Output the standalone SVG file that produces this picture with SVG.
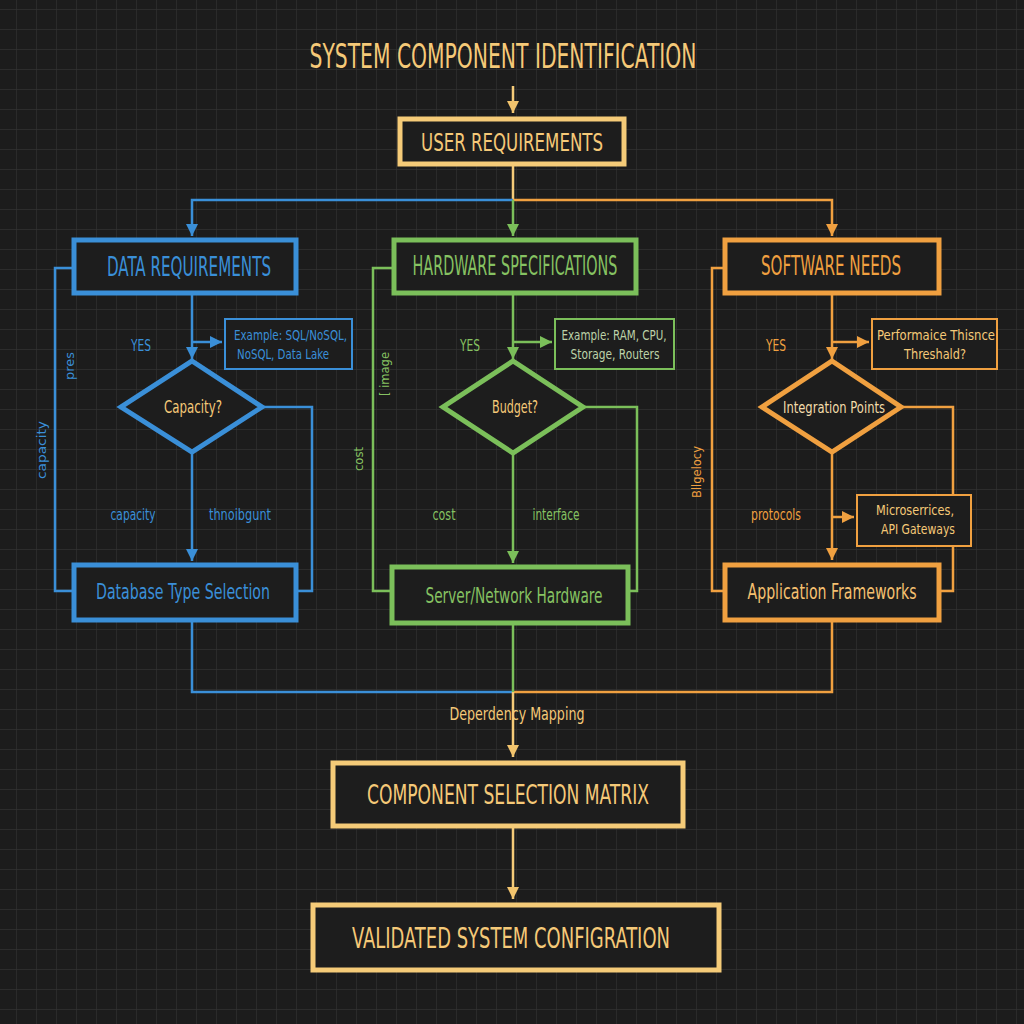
<svg xmlns="http://www.w3.org/2000/svg" width="1024" height="1024" viewBox="0 0 1024 1024">
<defs>
<pattern id="grid" width="20" height="20" patternUnits="userSpaceOnUse" x="16" y="9">
<rect width="20" height="20" fill="#1c1c1c"/>
<path d="M0,0 H20 M0,0 V20" stroke="#313131" stroke-width="1.3" fill="none"/>
</pattern>
<marker id="aGold" markerUnits="userSpaceOnUse" markerWidth="12" markerHeight="12" refX="12" refY="6" orient="auto"><path d="M0,0 L12,6 L0,12 z" fill="#f2c46d"/></marker>
<marker id="aBlue" markerUnits="userSpaceOnUse" markerWidth="12" markerHeight="12" refX="12" refY="6" orient="auto"><path d="M0,0 L12,6 L0,12 z" fill="#3a8fd8"/></marker>
<marker id="aGreen" markerUnits="userSpaceOnUse" markerWidth="12" markerHeight="12" refX="12" refY="6" orient="auto"><path d="M0,0 L12,6 L0,12 z" fill="#7bbf5a"/></marker>
<marker id="aOrange" markerUnits="userSpaceOnUse" markerWidth="12" markerHeight="12" refX="12" refY="6" orient="auto"><path d="M0,0 L12,6 L0,12 z" fill="#f0a040"/></marker>
</defs>
<style>
text{font-family:"DejaVu Sans Condensed","Liberation Sans",Arial,sans-serif;}
.box{fill:#1d1d1d;stroke-width:5;}
.sbox{fill:#1d1d1d;stroke-width:2;}
.dia{fill:#1d1d1d;stroke-width:5;stroke-linejoin:miter;}
.gold{stroke:#f5cb78;}
.blue{stroke:#3a8fd8;}
.green{stroke:#7bbf5a;}
.orange{stroke:#f0a040;}
.ln{fill:none;stroke-width:2.5;}
.tg{fill:#f5c978;}
.tb{fill:#3a8fd8;}
.tgr{fill:#86c262;}
.to{fill:#f0a040;}
.c{text-anchor:middle;}
.big{font-weight:500;}
</style>
<rect width="1024" height="1024" fill="url(#grid)"/>

<g id="connectors">
<line class="ln gold" x1="513" y1="86" x2="513" y2="113" marker-end="url(#aGold)"/>
<line class="ln gold" x1="513" y1="165" x2="513" y2="200" stroke="#f2b45a"/>
<polyline class="ln blue" points="513,200 192,200 192,236" marker-end="url(#aBlue)"/>
<polyline class="ln orange" points="513,200 832,200 832,236" marker-end="url(#aOrange)"/>
<line class="ln green" x1="513" y1="200" x2="513" y2="236" marker-end="url(#aGreen)"/>

<line class="ln blue" x1="192" y1="294" x2="192" y2="359" marker-end="url(#aBlue)"/>
<line class="ln blue" x1="192" y1="342" x2="222" y2="342" marker-end="url(#aBlue)"/>
<line class="ln blue" x1="192" y1="453" x2="192" y2="561" marker-end="url(#aBlue)"/>
<polyline class="ln blue" points="72,268 55,268 55,591 72,591"/>
<polyline class="ln blue" points="263,407 312,407 312,591 297,591"/>

<line class="ln green" x1="513" y1="295" x2="513" y2="359" marker-end="url(#aGreen)"/>
<line class="ln green" x1="513" y1="342" x2="552" y2="342" marker-end="url(#aGreen)"/>
<line class="ln green" x1="513" y1="454" x2="513" y2="563" marker-end="url(#aGreen)"/>
<polyline class="ln green" points="392,268 373,268 373,591 390,591"/>
<polyline class="ln green" points="584,407 637,407 637,591 630,591"/>

<line class="ln orange" x1="832" y1="295" x2="832" y2="359" marker-end="url(#aOrange)"/>
<line class="ln orange" x1="832" y1="342" x2="869" y2="342" marker-end="url(#aOrange)"/>
<line class="ln orange" x1="832" y1="453" x2="832" y2="560" marker-end="url(#aOrange)"/>
<line class="ln orange" x1="832" y1="517" x2="854" y2="517" marker-end="url(#aOrange)"/>
<polyline class="ln orange" points="723,268 712,268 712,591 723,591"/>
<polyline class="ln orange" points="902,407 953,407 953,591 941,591"/>

<polyline class="ln blue" points="192,621 192,692 513,692"/>
<polyline class="ln orange" points="832,622 832,692 513,692"/>
<line class="ln green" x1="513" y1="625" x2="513" y2="692"/>
<line class="ln gold" x1="513" y1="692" x2="513" y2="757" marker-end="url(#aGold)"/>
<line class="ln gold" x1="513" y1="828" x2="513" y2="899" marker-end="url(#aGold)"/>

<text class="tg" x="517" y="720" font-size="17" text-anchor="middle" textLength="135" lengthAdjust="spacingAndGlyphs">Deperdency Mapping</text>
<text class="tb" x="141" y="351" font-size="15" text-anchor="middle" textLength="20" lengthAdjust="spacingAndGlyphs">YES</text>
<text class="tb" x="133" y="520" font-size="15" text-anchor="middle" textLength="45" lengthAdjust="spacingAndGlyphs">capacity</text>
<text class="tb" x="240" y="520" font-size="15" text-anchor="middle" textLength="62" lengthAdjust="spacingAndGlyphs">thnoibgunt</text>
<text class="tb" font-size="13" text-anchor="middle" transform="translate(46,450) rotate(-90)" textLength="58" lengthAdjust="spacingAndGlyphs">capacity</text>
<text class="tb" font-size="13" text-anchor="middle" transform="translate(74,366) rotate(-90)" textLength="28" lengthAdjust="spacingAndGlyphs">pres</text>
<text class="tgr" x="470" y="351" font-size="15" text-anchor="middle" textLength="20" lengthAdjust="spacingAndGlyphs">YES</text>
<text class="tgr" x="444" y="520" font-size="15" text-anchor="middle" textLength="23" lengthAdjust="spacingAndGlyphs">cost</text>
<text class="tgr" x="556" y="520" font-size="15" text-anchor="middle" textLength="47" lengthAdjust="spacingAndGlyphs">interface</text>
<text class="tgr" font-size="13" text-anchor="middle" transform="translate(389,374) rotate(-90)" textLength="44" lengthAdjust="spacingAndGlyphs">[ image</text>
<text class="tgr" font-size="13" text-anchor="middle" transform="translate(363,459) rotate(-90)" textLength="24" lengthAdjust="spacingAndGlyphs">cost</text>
<text class="to" x="776" y="351" font-size="15" text-anchor="middle" textLength="20" lengthAdjust="spacingAndGlyphs">YES</text>
<text class="to" x="776" y="520" font-size="15" text-anchor="middle" textLength="50" lengthAdjust="spacingAndGlyphs">protocols</text>
<text class="to" font-size="13" text-anchor="middle" transform="translate(701,472) rotate(-90)" textLength="52" lengthAdjust="spacingAndGlyphs">Bllgelocy</text>
</g>

<g id="title">
<text class="tg c big" x="503" y="68" font-size="33" textLength="387" lengthAdjust="spacingAndGlyphs">SYSTEM COMPONENT IDENTIFICATION</text>
</g>

<g id="user-requirements">
<rect class="box gold" x="400" y="119" width="224" height="45"/>
<text class="tg c big" x="512" y="151" font-size="25" textLength="182" lengthAdjust="spacingAndGlyphs">USER REQUIREMENTS</text>
</g>

<g id="data-requirements">
<rect class="box blue" x="74" y="240" width="222" height="53"/>
<text class="tb c big" x="189" y="276" font-size="26" textLength="164" lengthAdjust="spacingAndGlyphs">DATA REQUIREMENTS</text>
</g>
<g id="data-example">
<rect class="sbox blue" x="225" y="319" width="127" height="50"/>
<text class="tb" x="234" y="340" font-size="14" textLength="113" lengthAdjust="spacingAndGlyphs">Example: SQL/NoSQL,</text>
<text class="tb" x="237" y="359" font-size="14" textLength="92" lengthAdjust="spacingAndGlyphs">NoSQL, Data Lake</text>
</g>
<g id="capacity">
<polygon class="dia blue" points="192,361 262,407 192,452 121,407"/>
<text class="tg c" x="193" y="413" font-size="17" textLength="58" lengthAdjust="spacingAndGlyphs">Capacity?</text>
</g>
<g id="database-type">
<rect class="box blue" x="74" y="565" width="222" height="55"/>
<text class="tb c big" x="183" y="599" font-size="22" textLength="174" lengthAdjust="spacingAndGlyphs">Database Type Selection</text>
</g>

<g id="hardware-specifications">
<rect class="box green" x="394" y="240" width="242" height="53"/>
<text class="tgr c big" x="515" y="275" font-size="26" textLength="205" lengthAdjust="spacingAndGlyphs">HARDWARE SPECIFICATIONS</text>
</g>
<g id="hardware-example">
<rect class="sbox green" x="555" y="319" width="119" height="50"/>
<text fill="#bcd2a8" x="614" y="340" font-size="14" text-anchor="middle" textLength="105" lengthAdjust="spacingAndGlyphs">Example: RAM, CPU,</text>
<text fill="#bcd2a8" x="615" y="359" font-size="14" text-anchor="middle" textLength="89" lengthAdjust="spacingAndGlyphs">Storage, Routers</text>
</g>
<g id="budget">
<polygon class="dia green" points="513,361 583,407 513,453 443,407"/>
<text class="tg c" x="515" y="413" font-size="17" textLength="46" lengthAdjust="spacingAndGlyphs">Budget?</text>
</g>
<g id="server-network">
<rect class="box green" x="392" y="567" width="236" height="56"/>
<text class="tgr c big" x="514" y="603" font-size="22" textLength="177" lengthAdjust="spacingAndGlyphs">Server/Network Hardware</text>
</g>

<g id="software-needs">
<rect class="box orange" x="725" y="240" width="214" height="53"/>
<text class="to c big" x="831" y="275" font-size="26" textLength="140" lengthAdjust="spacingAndGlyphs">SOFTWARE NEEDS</text>
</g>
<g id="performance">
<rect class="sbox orange" x="872" y="319" width="125" height="50"/>
<text class="tg c" x="936" y="340" font-size="14" textLength="118" lengthAdjust="spacingAndGlyphs">Performaice Thisnce</text>
<text class="tg c" x="935" y="359" font-size="14" textLength="62" lengthAdjust="spacingAndGlyphs">Threshald?</text>
</g>
<g id="integration-points">
<polygon class="dia orange" points="832,361 901,407 832,452 762,407"/>
<text fill="#f3dcaa" x="834" y="413" font-size="16" text-anchor="middle" textLength="102" lengthAdjust="spacingAndGlyphs">Integration Points</text>
</g>
<g id="microservices">
<rect class="sbox orange" x="857" y="495" width="114" height="51"/>
<text class="tg c" x="915" y="515" font-size="14" textLength="78" lengthAdjust="spacingAndGlyphs">Microserrices,</text>
<text class="tg c" x="918" y="534" font-size="14" textLength="74" lengthAdjust="spacingAndGlyphs">API Gateways</text>
</g>
<g id="application-frameworks">
<rect class="box orange" x="725" y="565" width="214" height="55"/>
<text class="to c big" x="832" y="599" font-size="22" textLength="169" lengthAdjust="spacingAndGlyphs" style="fill:#f5c070">Application Frameworks</text>
</g>

<g id="component-selection-matrix">
<rect class="box gold" x="333" y="763" width="350" height="63"/>
<text class="tg c big" x="508" y="804" font-size="27" textLength="282" lengthAdjust="spacingAndGlyphs">COMPONENT SELECTION MATRIX</text>
</g>
<g id="validated-system-configuration">
<rect class="box gold" x="313" y="905" width="406" height="65"/>
<text class="tg c big" x="511" y="948" font-size="29" textLength="318" lengthAdjust="spacingAndGlyphs">VALIDATED SYSTEM CONFIGRATION</text>
</g>
</svg>
